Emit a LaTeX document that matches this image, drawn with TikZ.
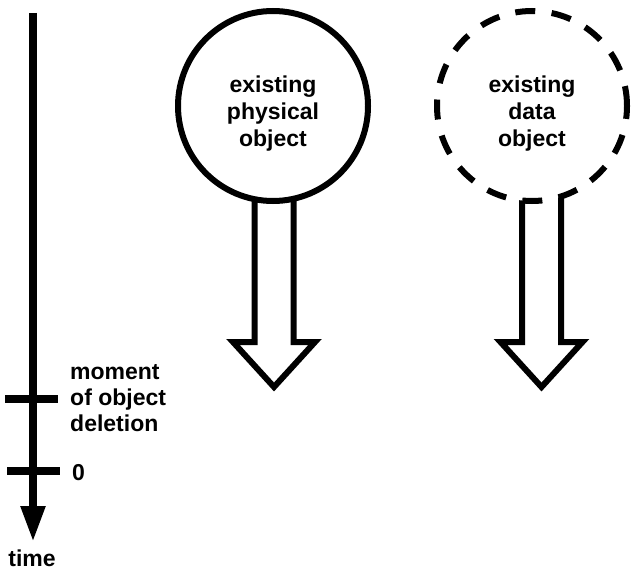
\documentclass[tikz,border=0pt]{standalone}
\usepackage{fontspec}
\setmainfont{Liberation Sans}
\usetikzlibrary{arrows.meta,backgrounds}

\tikzset{
  objcircle/.style={circle, draw, fill=white, line width=6bp, minimum size=190bp,
                    inner sep=0pt, align=center,
                    font=\fontsize{23bp}{27bp}\selectfont\bfseries},
  dataline/.style={dash pattern=on 20bp off 16.5bp},
  blockarrow/.style={draw, line width=6bp, line join=miter},
  axis/.style={line width=8bp},
  axislabel/.style={inner sep=0pt, align=left,
                    font=\fontsize{23bp}{26bp}\selectfont\bfseries}
}

% pushes the circle text a little below the centre
\newcommand{\toppad}{\rule{0pt}{32bp}}

% hollow arrow hanging below an object circle
\newcommand{\decayarrow}[2]{%
  \draw[blockarrow] ([xshift=#2]#1.center) ++(-19.5,0)
    -- ++(0,236) -- ++(-21.5,0) -- ++(41,45) -- ++(41,-45)
    -- ++(-21.5,0) -- ++(0,-236) -- cycle;}

\begin{document}
\begin{tikzpicture}[x=1bp, y=-1bp]
  \useasboundingbox (0,0) rectangle (637,573);

  % time axis
  \coordinate (tltop) at (33,13);
  \coordinate (tlend) at (33,542);
  \draw[axis, -{Triangle[length=36bp, width=23bp]}] (tltop) -- (tlend);

  \coordinate (delL) at (5,399);  \coordinate (delR) at (58,399);
  \coordinate (zeroL) at (7,471); \coordinate (zeroR) at (60,471);
  \draw[axis] (delL) -- (delR);
  \draw[axis] (zeroL) -- (zeroR);

  \node[axislabel, anchor=west] (deletion) at (70,398) {moment\\of object\\deletion};
  \node[axislabel, anchor=west] (zero) at (72,473) {0};
  \node[axislabel] (time) at (32,558) {time};

  % objects
  \node[objcircle] (phys) at (273,106) {\toppad existing\\physical\\object};
  \node[objcircle, dataline] (data) at (532,106) {\toppad existing\\data\\object};

  \begin{scope}[on background layer]
    \decayarrow{phys}{1bp}
    \decayarrow{data}{9.5bp}
  \end{scope}
\end{tikzpicture}
\end{document}
